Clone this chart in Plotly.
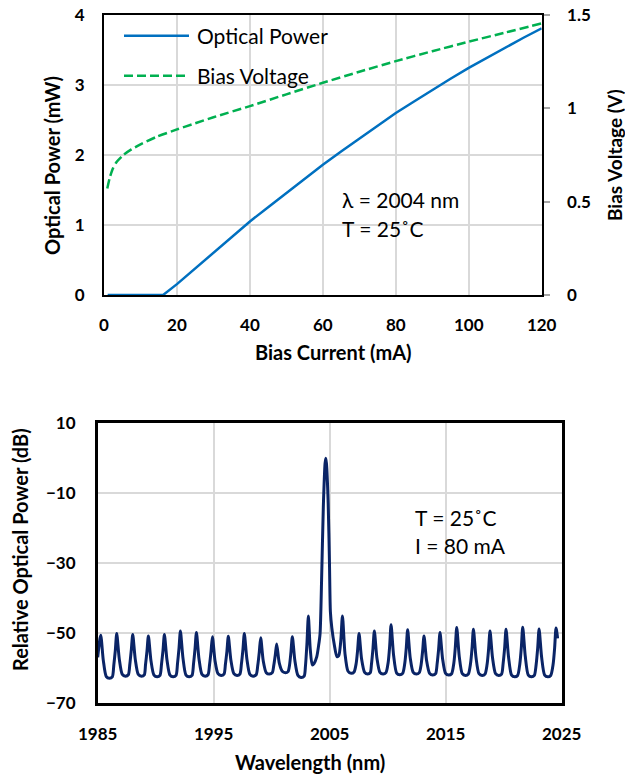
import plotly.graph_objects as go

# ---------------- Top chart data ----------------
power_current_mA = [1, 5, 10, 14, 16.2, 20, 25, 30, 35, 40, 45, 50, 55, 60, 65, 70,
                    75, 80, 85, 90, 95, 100, 105, 110, 115, 120]
optical_power_mW = [0, 0, 0, 0, 0, 0.155, 0.38, 0.605, 0.83, 1.05, 1.255, 1.46, 1.66,
                    1.86, 2.05, 2.235, 2.42, 2.60, 2.765, 2.93, 3.09, 3.245, 3.39,
                    3.535, 3.675, 3.81]

volt_current_mA = [0.9, 1.6, 2.5, 3.5, 5.3, 7.5, 10, 14.5, 20, 25, 30, 40, 50, 60, 70,
                   80, 90, 100, 110, 120]
bias_voltage_V = [0.571, 0.63, 0.68, 0.714, 0.75, 0.78, 0.807, 0.848, 0.887, 0.92,
                  0.952, 1.012, 1.075, 1.137, 1.196, 1.253, 1.306, 1.357, 1.406, 1.455]

# ---------------- Bottom chart data (spectrum) ----------------
wavelength_nm = [
    1985.00,
    1985.26, 1985.48, 1985.74, 1986.01, 1986.26, 1986.39, 1986.52,
    1986.64, 1986.86, 1987.12, 1987.39, 1987.64, 1987.77, 1987.90,
    1988.02, 1988.24, 1988.50, 1988.77, 1989.02, 1989.12, 1989.25,
    1989.37, 1989.59, 1989.85, 1990.12, 1990.37, 1990.50, 1990.63,
    1990.75, 1990.97, 1991.23, 1991.50, 1991.75, 1991.88, 1992.01,
    1992.13, 1992.35, 1992.61, 1992.88, 1993.13, 1993.26, 1993.39,
    1993.51, 1993.73, 1993.99, 1994.26, 1994.51, 1994.64, 1994.77,
    1994.89, 1995.11, 1995.37, 1995.64, 1995.89, 1996.01, 1996.14,
    1996.26, 1996.48, 1996.74, 1997.01, 1997.26, 1997.39, 1997.52,
    1997.64, 1997.86, 1998.12, 1998.39, 1998.66, 1998.80, 1998.93,
    1999.05, 1999.27, 1999.53, 1999.80, 2000.05, 2000.18, 2000.31,
    2000.43, 2000.65, 2000.91, 2001.18, 2001.41, 2001.53, 2001.66,
    2001.78, 2002.00, 2002.26, 2002.53, 2002.80, 2002.91, 2003.04,
    2003.16, 2003.32, 2003.50, 2003.65, 2003.88, 2004.05, 2004.17,
    2004.30, 2004.45, 2004.60, 2004.66, 2004.72, 2004.87, 2004.98,
    2005.06, 2005.18, 2005.40, 2005.62, 2005.78, 2005.95,
    2006.10, 2006.32, 2006.58, 2006.85, 2007.10, 2007.28, 2007.41,
    2007.53, 2007.75, 2008.01, 2008.28, 2008.50, 2008.60, 2008.73,
    2008.85, 2009.07, 2009.33, 2009.60, 2009.85, 2010.04, 2010.17,
    2010.29, 2010.51, 2010.77, 2011.04, 2011.29, 2011.47, 2011.60,
    2011.72, 2011.94, 2012.20, 2012.47, 2012.72, 2012.88, 2013.01,
    2013.13, 2013.35, 2013.61, 2013.88, 2014.13, 2014.26, 2014.39,
    2014.51, 2014.73, 2014.99, 2015.26, 2015.51, 2015.70, 2015.83,
    2015.95, 2016.17, 2016.43, 2016.70, 2016.95, 2017.14, 2017.27,
    2017.39, 2017.61, 2017.87, 2018.14, 2018.39, 2018.57, 2018.70,
    2018.82, 2019.04, 2019.30, 2019.57, 2019.82, 2019.95, 2020.08,
    2020.20, 2020.42, 2020.68, 2020.95, 2021.20, 2021.39, 2021.52,
    2021.64, 2021.86, 2022.12, 2022.39, 2022.64, 2022.80, 2022.93,
    2023.05, 2023.27, 2023.53, 2023.80, 2024.05, 2024.26, 2024.39,
    2024.51, 2024.65,
]
relative_power_dB = [
    -57.0,
    -50.7, -57.8, -62.5, -63.0, -62.6, -59.2, -55.0,
    -50.2, -57.5, -61.9, -62.4, -62.0, -59.0, -54.8,
    -50.5, -57.6, -61.9, -62.4, -62.0, -59.2, -55.2,
    -50.9, -57.9, -62.1, -62.6, -62.2, -59.0, -55.0,
    -50.5, -57.7, -62.1, -62.6, -62.2, -58.8, -54.4,
    -49.5, -57.2, -62.1, -62.6, -62.2, -58.9, -54.6,
    -49.9, -57.4, -61.9, -62.4, -62.0, -59.2, -55.3,
    -51.1, -57.9, -61.7, -62.2, -61.8, -59.0, -55.3,
    -51.0, -57.8, -61.7, -62.2, -61.8, -58.9, -54.8,
    -50.2, -57.5, -61.9, -62.4, -62.0, -59.3, -55.5,
    -51.4, -58.0, -61.4, -61.8, -61.4, -59.3, -56.3,
    -53.2, -58.6, -61.0, -61.4, -61.1, -59.4, -55.5,
    -51.1, -58.0, -62.2, -62.8, -62.4, -59.5, -53.0,
    -45.2, -54.5, -59.2, -58.8, -56.9, -53.5, -50.2,
    -35.0, -14.0, -1.5, 0.0, -1.5, -13.0, -30.0,
    -44.0, -48.5, -53.5, -56.8, -56.5, -52.5,
    -45.2, -56.0, -61.0, -61.6, -61.2, -58.8, -54.8,
    -50.2, -57.5, -61.3, -61.8, -61.4, -59.0, -54.5,
    -49.5, -57.2, -61.3, -61.8, -61.4, -58.5, -53.8,
    -47.7, -56.5, -61.5, -62.0, -61.6, -58.8, -54.4,
    -49.1, -57.1, -61.3, -61.8, -61.4, -59.1, -55.2,
    -50.9, -57.9, -61.6, -62.1, -61.7, -58.9, -54.7,
    -49.9, -57.4, -61.6, -62.1, -61.7, -58.7, -54.1,
    -48.5, -56.8, -61.7, -62.2, -61.8, -58.8, -54.4,
    -49.0, -57.0, -61.7, -62.2, -61.8, -59.0, -54.6,
    -49.5, -57.2, -61.7, -62.2, -61.8, -58.8, -54.4,
    -49.0, -57.0, -62.1, -62.6, -62.2, -58.9, -54.2,
    -48.4, -56.7, -62.1, -62.6, -62.2, -59.0, -54.4,
    -48.9, -57.0, -62.1, -62.6, -62.2, -59.0, -54.4,
    -48.6, -51.6,
]

top_x_ticks = [0, 20, 40, 60, 80, 100, 120]
top_y_ticks = [0, 1, 2, 3, 4]
top_y2_ticks = [0, 0.5, 1, 1.5]
top_y2_labels = ["0", "0.5", "1", "1.5"]
bot_x_ticks = [1985, 1995, 2005, 2015, 2025]
bot_y_ticks = [-70, -50, -30, -10, 10]

# ---------------- Figure ----------------
W, H = 625, 774
FONT = "Lato"
BLUE = "#0070C0"
GREEN = "#00B050"
NAVY = "#0A2466"
GRID = "#D9D9D9"


def px(x):
    return x / W


def py(y):
    return 1 - y / H


fig = go.Figure()

fig.add_trace(go.Scatter(x=power_current_mA, y=optical_power_mW, mode="lines",
                         name="Optical Power", line=dict(color=BLUE, width=2.5),
                         xaxis="x", yaxis="y", showlegend=False))
fig.add_trace(go.Scatter(x=volt_current_mA, y=bias_voltage_V, mode="lines",
                         name="Bias Voltage", line=dict(color=GREEN, width=2.5, dash="9px,4px", shape="spline", smoothing=0.6),
                         xaxis="x", yaxis="y2", showlegend=False))
fig.add_trace(go.Scatter(x=wavelength_nm, y=relative_power_dB, mode="lines",
                         name="Spectrum", line=dict(color=NAVY, width=3, shape="spline", smoothing=0.7),
                         xaxis="x2", yaxis="y3", showlegend=False))

tickfont = dict(family=FONT, size=17, color="black", weight="bold")
axline = dict(showline=True, linecolor="black", linewidth=2, mirror=True)

fig.update_layout(
    width=W, height=H,
    margin=dict(l=0, r=0, t=0, b=0, pad=0, autoexpand=False),
    paper_bgcolor="white", plot_bgcolor="white",
    font=dict(family=FONT, color="black"),
    xaxis=dict(domain=[px(104), px(541.7)], range=[0, 120], tickvals=top_x_ticks,
               showgrid=True, gridcolor=GRID, gridwidth=1.5, zeroline=False,
               tickfont=tickfont, ticks="", ticklabelstandoff=14, anchor="y",
               automargin=False, ticklabeloverflow="allow", **axline),
    yaxis=dict(domain=[py(295), py(15)], range=[0, 4], tickvals=top_y_ticks,
               showgrid=True, gridcolor=GRID, gridwidth=1.5, zeroline=False,
               tickfont=tickfont, ticks="", ticklabelstandoff=14, anchor="x",
               automargin=False, ticklabeloverflow="allow", **axline),
    yaxis2=dict(range=[0, 1.5], tickvals=top_y2_ticks, ticktext=top_y2_labels,
                overlaying="y", side="right", anchor="x", showgrid=False, zeroline=False,
                tickfont=tickfont, ticks="outside", ticklen=6, tickwidth=1.5,
                tickcolor="#A6A6A6", ticklabelstandoff=14, automargin=False,
                ticklabeloverflow="allow",
                showline=True, linecolor="black", linewidth=2),
    xaxis2=dict(domain=[px(97.7), px(561.7)], range=[1985, 2025], tickvals=bot_x_ticks,
                showgrid=True, gridcolor=GRID, gridwidth=1.5, zeroline=False,
                tickfont=tickfont, ticks="", ticklabelstandoff=14, anchor="y3",
                automargin=False, ticklabeloverflow="allow",
                showline=True, linecolor="black", linewidth=2.5, mirror=True),
    yaxis3=dict(domain=[py(702.7), py(423.3)], range=[-70, 10], tickvals=bot_y_ticks,
                showgrid=True, gridcolor=GRID, gridwidth=1.5, zeroline=False,
                tickfont=tickfont, ticks="", ticklabelstandoff=16, anchor="x2",
                automargin=False, ticklabeloverflow="allow",
                showline=True, linecolor="black", linewidth=2.5, mirror=True),
)

# manual legend (line samples + labels)
fig.add_shape(type="line", xref="paper", yref="paper", x0=px(124), x1=px(189),
              y0=py(35.7), y1=py(35.7), line=dict(color=BLUE, width=2.5))
fig.add_shape(type="line", xref="paper", yref="paper", x0=px(124), x1=px(189),
              y0=py(75.7), y1=py(75.7), line=dict(color=GREEN, width=2.5, dash="9px,4px"))


def note(text, x, y, size=21, bold=False, angle=0, xanchor="left"):
    fig.add_annotation(text=text, xref="paper", yref="paper", x=px(x), y=py(y),
                       xanchor=xanchor, yanchor="middle", showarrow=False, textangle=angle,
                       font=dict(family=FONT, size=size, color="black",
                                 weight="bold" if bold else "normal"))


note("Optical Power", 195, 36)
note("Bias Voltage", 195, 76)
note("λ = 2004 nm", 340, 200)
note("T = 25˚C", 340, 228)
note("T = 25˚C", 413, 517)
note("I = 80 mA", 413, 545)

# axis titles
note("Optical Power (mW)", 52, 166, size=20, bold=True, angle=-90, xanchor="center")
note("Bias Voltage (V)", 614, 155, size=19, bold=True, angle=-90, xanchor="center")
note("Bias Current (mA)", 333, 352, size=20, bold=True, xanchor="center")
note("Relative Optical Power (dB)", 20, 550, size=20, bold=True, angle=-90, xanchor="center")
note("Wavelength (nm)", 310, 762, size=20, bold=True, xanchor="center")

fig.write_html(
    "out.html",
    config={"displayModeBar": False},
    post_script="document.body.style.margin='0';document.body.style.overflow='hidden';",
)
